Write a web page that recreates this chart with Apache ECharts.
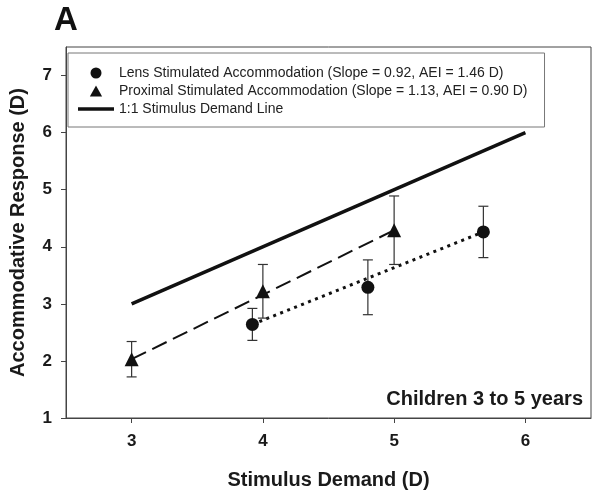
<!DOCTYPE html>
<html><head><meta charset="utf-8">
<script src="https://cdn.jsdelivr.net/npm/echarts@6/dist/echarts.min.js"></script>
<style>html,body{margin:0;padding:0;background:#fff}#c{width:600px;height:495px}</style>
</head><body><div id="c"></div>
<script>
const FONT = "'Liberation Sans', Arial, sans-serif";
const xTicks = [3, 4, 5, 6];
const yTicks = [1, 2, 3, 4, 5, 6, 7];
const lensName = 'Lens Stimulated Accommodation (Slope = 0.92, AEI = 1.46 D)';
const proxName = 'Proximal Stimulated Accommodation (Slope = 1.13, AEI = 0.90 D)';
const idName = '1:1 Stimulus Demand Line';
const lensX = [3.92, 4.80, 5.68];
const lensY = [2.64, 3.29, 4.26];
const lensErr = [0.28, 0.48, 0.45];
const proxX = [3, 4, 5];
const proxY = [2.03, 3.22, 4.29];
const proxErr = [0.31, 0.47, 0.60];
const lensFitX = [3.92, 5.68];
const lensFitY = [2.64, 4.26];
const proxFitX = [3, 5];
const proxFitY = [2.03, 4.29];
const idX = [3, 6];
const idY = [3, 6];
const panelLabel = 'A';
const groupLabel = 'Children 3 to 5 years';
const xTitle = 'Stimulus Demand (D)';
const yTitle = 'Accommodative Response (D)';

const zip = (a, b) => a.map((v, i) => [v, b[i]]);
const errData = (xs, ys, es) => xs.map((x, i) => [x, ys[i] - es[i], ys[i] + es[i]]);

function errRender(params, api) {
  const x = api.value(0), lo = api.value(1), hi = api.value(2);
  const p1 = api.coord([x, hi]), p2 = api.coord([x, lo]);
  const w = 5, st = { stroke: '#333', lineWidth: 1.2 };
  return { type: 'group', children: [
    { type: 'line', shape: { x1: p1[0], y1: p1[1], x2: p2[0], y2: p2[1] }, style: st },
    { type: 'line', shape: { x1: p1[0] - w, y1: p1[1], x2: p1[0] + w, y2: p1[1] }, style: st },
    { type: 'line', shape: { x1: p2[0] - w, y1: p2[1], x2: p2[0] + w, y2: p2[1] }, style: st }
  ]};
}

const chart = echarts.init(document.getElementById('c'), null, { renderer: 'canvas' });
chart.setOption({
  animation: false,
  backgroundColor: '#fff',
  textStyle: { fontFamily: FONT },
  grid: { left: 63, right: 9, top: 47, bottom: 76, show: true, borderColor: '#444', borderWidth: 1 },
  xAxis: {
    type: 'value', min: 2.5, max: 6.5,
    name: xTitle, nameLocation: 'middle', nameGap: 52,
    nameTextStyle: { fontFamily: FONT, fontSize: 20, fontWeight: 'bold', color: '#1a1a1a' },
    axisLine: { show: true, lineStyle: { color: '#444', width: 1 } },
    axisTick: { show: true, length: 5, customValues: xTicks, lineStyle: { color: '#444' } },
    axisLabel: { customValues: xTicks, margin: 15, fontFamily: FONT, fontSize: 17, fontWeight: 'bold', color: '#1a1a1a' },
    splitLine: { show: false }
  },
  yAxis: {
    type: 'value', min: 1, max: 7.5,
    name: yTitle, nameLocation: 'middle', nameGap: 38,
    nameTextStyle: { fontFamily: FONT, fontSize: 20, fontWeight: 'bold', color: '#1a1a1a' },
    axisLine: { show: true, lineStyle: { color: '#444', width: 1 } },
    axisTick: { show: true, length: 5, customValues: yTicks, lineStyle: { color: '#444' } },
    axisLabel: { customValues: yTicks, margin: 14, fontFamily: FONT, fontSize: 17, fontWeight: 'bold', color: '#1a1a1a' },
    splitLine: { show: false }
  },
  legend: {
    left: 68, top: 53, orient: 'vertical',
    padding: [12, 17, 10, 10],
    borderColor: '#777', borderWidth: 1,
    itemWidth: 36, itemHeight: 11, itemGap: 2,
    selectedMode: false,
    textStyle: { fontFamily: FONT, fontSize: 14, color: '#222', lineHeight: 16 },
    data: [
      { name: lensName, icon: 'circle', itemStyle: { color: '#111', opacity: 1 } },
      { name: proxName, icon: 'path://M5,0 L10,9 L0,9 Z', itemStyle: { color: '#111', opacity: 1 } },
      { name: idName, icon: 'path://M0,0 L36,0 L36,3.5 L0,3.5 Z', itemStyle: { color: '#111', opacity: 1 } }
    ]
  },
  graphic: [
    { type: 'text', left: 54, top: 4, style: { text: panelLabel, font: 'bold 33px ' + FONT, fill: '#111' } },
    { type: 'text', right: 17, top: 389, style: { text: groupLabel, font: 'bold 20px ' + FONT, fill: '#1a1a1a' } }
  ],
  series: [
    { name: idName, type: 'line', data: zip(idX, idY), symbol: 'none', color: '#111',
      lineStyle: { color: '#111', width: 3.5 }, z: 2 },
    { name: 'proxFit', type: 'line', data: zip(proxFitX, proxFitY), symbol: 'none',
      lineStyle: { color: '#111', width: 2, type: [16, 7] }, z: 2 },
    { name: 'lensFit', type: 'line', data: zip(lensFitX, lensFitY), symbol: 'none',
      lineStyle: { color: '#111', width: 3, type: [3, 4.5] }, z: 2 },
    { name: 'proxErr', type: 'custom', renderItem: errRender, data: errData(proxX, proxY, proxErr),
      encode: { x: 0, y: [1, 2] }, z: 3 },
    { name: 'lensErr', type: 'custom', renderItem: errRender, data: errData(lensX, lensY, lensErr),
      encode: { x: 0, y: [1, 2] }, z: 3 },
    { name: proxName, type: 'scatter', data: zip(proxX, proxY), symbol: 'triangle', symbolSize: 14,
      itemStyle: { color: '#111', opacity: 1 }, z: 4 },
    { name: lensName, type: 'scatter', data: zip(lensX, lensY), symbol: 'circle', symbolSize: 13,
      itemStyle: { color: '#111', opacity: 1 }, z: 4 }
  ]
});
</script></body></html>
